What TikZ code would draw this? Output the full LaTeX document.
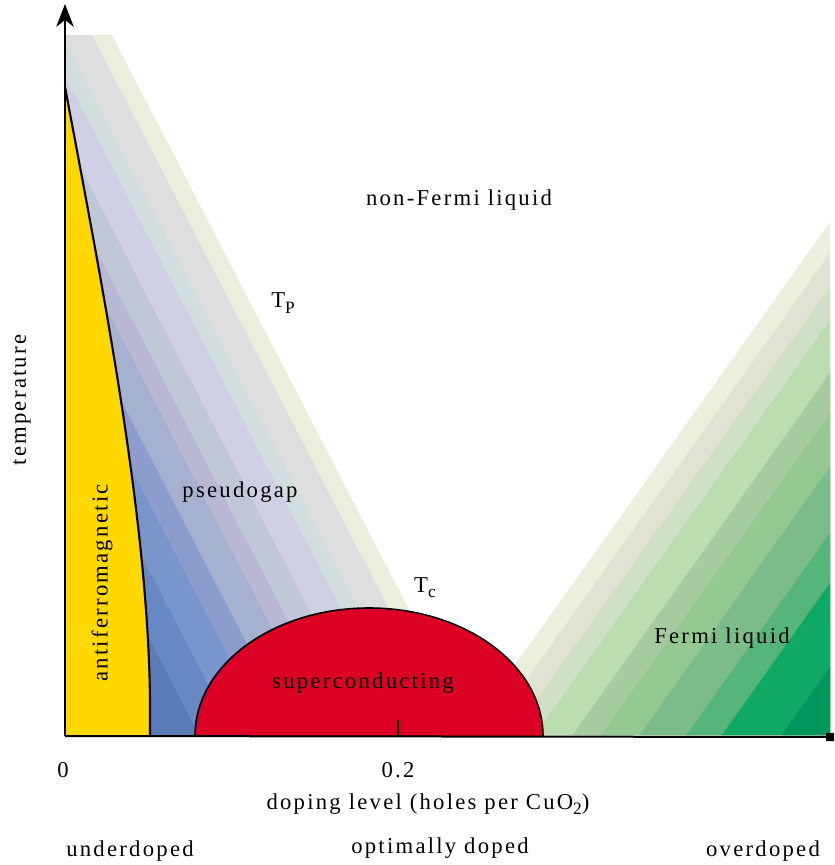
\documentclass[tikz,border=0pt]{standalone}
\usepackage{fontspec}
\setmainfont[LetterSpace=10]{Liberation Serif}
\usepackage{xcolor}
\usetikzlibrary{arrows.meta}
\definecolor{pgA}{HTML}{ECEEDC}
\definecolor{pgB}{HTML}{DEDEDE}
\definecolor{pgC}{HTML}{D2DEDE}
\definecolor{pgD}{HTML}{D0D0E4}
\definecolor{pgE}{HTML}{C0C8D8}
\definecolor{pgF}{HTML}{B8B8D4}
\definecolor{pgG}{HTML}{A4B2D0}
\definecolor{pgH}{HTML}{8C9CCC}
\definecolor{pgI}{HTML}{7896CC}
\definecolor{pgJ}{HTML}{6888C4}
\definecolor{pgK}{HTML}{5A7CB8}
\definecolor{flA}{HTML}{EDEFDD}
\definecolor{flB}{HTML}{E0E3D3}
\definecolor{flC}{HTML}{CFE0C7}
\definecolor{flD}{HTML}{BCDDB0}
\definecolor{flE}{HTML}{A7CBA0}
\definecolor{flF}{HTML}{93C991}
\definecolor{flG}{HTML}{7CBC8A}
\definecolor{flH}{HTML}{55B57A}
\definecolor{flI}{HTML}{10A865}
\definecolor{flJ}{HTML}{00965E}
\definecolor{afmyellow}{HTML}{FFD800}
\definecolor{scred}{HTML}{DB0024}
\newcommand{\lowsub}[1]{\raisebox{-0.5ex}{\fontsize{13}{13}\selectfont #1}}

\begin{document}
\begin{tikzpicture}[x=0.75pt,y=-0.75pt,
    lbl/.style={font=\fontsize{17}{20}\selectfont, inner sep=0pt}]
    \useasboundingbox (0,0) rectangle (835,865);
    \coordinate (origin) at (65,736);
    \coordinate (ytip) at (65,4);
    \coordinate (xend) at (834,737);
    \coordinate (afmtop) at (65,87);
    \coordinate (afmfoot) at (150,736);
    \coordinate (scleft) at (195,736);
    \coordinate (tick) at (398,720);
    \coordinate (tickfoot) at (398,736);

    \begin{scope}
        \clip (65,35) -- (112,35) -- (474,735) -- (65,735) -- cycle;
        \foreach \d/\col in {0/pgA, 20/pgB, 50/pgC, 68/pgD, 100/pgE, 127/pgF, 147/pgG, 180/pgH, 205/pgI, 240/pgJ, 275/pgK}
            \fill[\col] ({112-\d},35) -- ({474-\d},735) -- (0,735) -- (0,35) -- cycle;
    \end{scope}

    \begin{scope}
        \clip (460,735) -- (830,735) -- (830,222) -- cycle;
        \foreach \Y/\col in {222/flA, 253/flB, 287/flC, 320/flD, 373/flE, 413/flF, 467/flG, 533/flH, 583/flI, 667/flJ}
            \fill[\col] (830,\Y) -- ({830-0.711*(735-\Y)},735) -- (840,735) -- (840,\Y) -- cycle;
    \end{scope}

    \fill[afmyellow] (afmtop) .. controls (105,300) and (148,520) .. (150,700) -- (afmfoot) -- (origin) -- cycle;
    \draw[line width=1.6pt] (afmtop) .. controls (105,300) and (148,520) .. (150,700) -- (afmfoot);

    \filldraw[fill=scred, draw=black, line width=1.2pt] (scleft) arc[start angle=180, end angle=360, x radius=174, y radius=128];
    \draw[line width=1pt] (tick) -- (tickfoot);

    \draw[line width=1.5pt, -{Stealth[length=17pt,width=13pt,inset=5pt]}] (origin) -- (ytip);
    \draw[line width=1.5pt, -{Square[length=6pt,width=6pt]}] (origin) -- (xend);

    \node[lbl] (nfl) at (459,200) {non-Fermi liquid};
    \node[lbl] (tp) at (283,303) {T\lowsub{P}};
    \node[lbl] (pg) at (240,492) {pseudogap};
    \node[lbl] (tc) at (425,588) {T\lowsub{c}};
    \node[lbl] (sc) at (363,683) {superconducting};
    \node[lbl] (fl) at (722,638) {Fermi liquid};
    \node[lbl, rotate=90] (afm) at (102,583) {antiferromagnetic};
    \node[lbl, rotate=90] (temp) at (22,400) {temperature};
    \node[lbl] (zero) at (63,770) {0};
    \node[lbl] (ptwo) at (398,770) {0.2};
    \node[lbl] (xlabel) at (428,804) {doping level (holes per CuO\lowsub{2})};
    \node[lbl] (under) at (130,851) {underdoped};
    \node[lbl] (optimal) at (440,848) {optimally doped};
    \node[lbl] (over) at (763,851) {overdoped};
\end{tikzpicture}
\end{document}
